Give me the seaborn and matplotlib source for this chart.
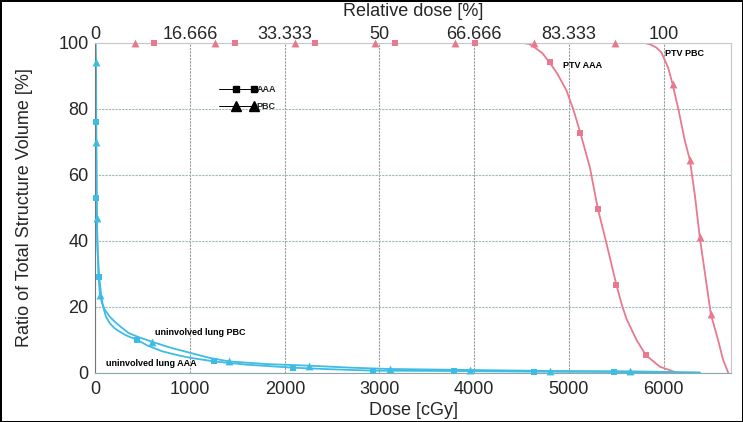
import numpy as np
import pandas as pd
import matplotlib
matplotlib.use("Agg")
import matplotlib.pyplot as plt
from matplotlib.lines import Line2D
from matplotlib.legend_handler import HandlerBase
import seaborn as sns

# ── curve points (dose in cGy, volume in %) ──
ptv_aaa_x = [0, 4500, 4580, 4641, 4720, 4799, 4880, 4975, 5050, 5123, 5222, 5306, 5398, 5503, 5560, 5609, 5715, 5813, 5961, 6137]
ptv_aaa_y = [100, 100, 99.6, 98.5, 96.8, 93.9, 90.5, 85.5, 79.5, 72.5, 62.2, 49.7, 39.1, 26.5, 20.5, 16.3, 9.9, 5.3, 1.8, 0]
ptv_aaa_mx = [618, 1473, 2317, 3162, 4007, 4799, 5123, 5306, 5503, 5813]
ptv_aaa_my = [100, 100, 100, 100, 100, 94, 72.5, 49.7, 26.5, 5.3]

ptv_pbc_x = [0, 5700, 5800, 5855, 5920, 5978, 6049, 6095, 6160, 6225, 6278, 6330, 6383, 6443, 6500, 6576, 6630, 6683]
ptv_pbc_y = [100, 100, 99.9, 99.5, 98.6, 97, 92.4, 87.5, 79.4, 70.3, 64.5, 54, 41, 29, 17.7, 9.9, 3.8, 0]
ptv_pbc_mx = [417, 1262, 2107, 2952, 3796, 4630, 5489, 6095, 6278, 6383, 6500]
ptv_pbc_my = [100, 100, 100, 100, 100, 100, 100, 87.5, 64.5, 41, 17.7]

lung_aaa_x = [0, 5, 10, 20, 40, 60, 80, 110, 150, 200, 250, 330, 435, 550, 700, 850, 1000, 1251, 1600, 2089, 2500, 2933, 3789, 4630, 5479, 6383]
lung_aaa_y = [100, 76, 53, 38, 29, 23.5, 20, 17, 15, 13.5, 12.5, 11.2, 10, 8.2, 6.5, 5.4, 4.5, 3.4, 2.4, 1.5, 1.0, 0.6, 0.5, 0.3, 0.2, 0]
lung_aaa_mx = [5, 10, 40, 435, 1251, 2089, 2933, 3789, 4630, 5479]
lung_aaa_my = [76, 53, 29, 10, 3.4, 1.5, 0.6, 0.5, 0.3, 0.2]

lung_pbc_x = [0, 5, 10, 15, 30, 47, 70, 100, 150, 200, 270, 350, 460, 593, 700, 800, 1000, 1200, 1413, 1800, 2258, 2700, 3110, 3955, 4799, 5644, 6383]
lung_pbc_y = [100, 94, 70, 47, 30, 23.5, 21, 19, 17, 15.5, 13.8, 12, 10.7, 9.4, 8.4, 7.5, 6, 4.5, 3.4, 2.6, 2.1, 1.5, 1.1, 0.8, 0.5, 0.4, 0]
lung_pbc_mx = [5, 10, 15, 47, 593, 1413, 2258, 3110, 3955, 4799, 5644]
lung_pbc_my = [94, 70, 47, 23.5, 9.4, 3.4, 2.1, 1.1, 0.8, 0.5, 0.4]

x_ticks = [0, 1000, 2000, 3000, 4000, 5000, 6000]
top_labels = ["0", "16.666", "33.333", "50", "66.666", "83.333", "100"]
y_ticks = [0, 20, 40, 60, 80, 100]

PINK = "#E8798F"
BLUE = "#3FBCE4"


class LeftLineHandler(HandlerBase):
    # thin line over the whole handle, two markers in its right half
    def create_artists(self, legend, orig_handle, xdescent, ydescent,
                       width, height, fontsize, trans):
        y = (height - ydescent) / 2
        x0 = -xdescent
        line = Line2D([x0, x0 + width], [y, y], color=orig_handle.get_color(),
                      lw=orig_handle.get_linewidth())
        marks = Line2D([x0 + width * 0.47, x0 + width * 0.95], [y, y], ls="none",
                       marker=orig_handle.get_marker(),
                       markersize=orig_handle.get_markersize(),
                       color=orig_handle.get_color())
        line.set_transform(trans)
        marks.set_transform(trans)
        return [line, marks]


sns.set_style("white")
plt.rcParams["font.family"] = ["Liberation Sans", "DejaVu Sans"]

fig = plt.figure(figsize=(7.43, 4.22), dpi=100)
fig.patch.set_edgecolor("black")
fig.patch.set_linewidth(2)
ax = fig.add_axes([0.1285, 0.117, 0.855, 0.782])

series = [
    (ptv_aaa_x, ptv_aaa_y, ptv_aaa_mx, ptv_aaa_my, PINK, "s"),
    (ptv_pbc_x, ptv_pbc_y, ptv_pbc_mx, ptv_pbc_my, PINK, "^"),
    (lung_aaa_x, lung_aaa_y, lung_aaa_mx, lung_aaa_my, BLUE, "s"),
    (lung_pbc_x, lung_pbc_y, lung_pbc_mx, lung_pbc_my, BLUE, "^"),
]
for cx, cy, mx, my, col, mk in series:
    sns.lineplot(x=cx, y=cy, ax=ax, color=col, lw=1.3, sort=False, estimator=None)
    sns.scatterplot(x=mx, y=my, ax=ax, color=col, marker=mk,
                    s=32 if mk == "^" else 22, edgecolor=col, linewidth=0, zorder=4)
for coll in ax.collections:
    coll.set_clip_on(False)

ax.set_xlim(0, 6710)
ax.set_ylim(0, 100)
ax.set_xticks(x_ticks)
ax.set_yticks(y_ticks)
ax.tick_params(labelsize=13, length=3, color="#666666", pad=2)
ax.tick_params(axis="x", pad=3)
ax.grid(True, axis="x", color="#9a9a9a", lw=0.8, ls=(0, (2, 1)))
ax.grid(True, axis="y", color="#9db8bb", lw=0.8, ls=(0, (2, 1)))
ax.set_axisbelow(True)
for s in ["top", "right"]:
    ax.spines[s].set_color("#c8c8c8")
    ax.spines[s].set_linewidth(0.8)
ax.spines["left"].set_color("#777777")
ax.spines["bottom"].set_color("#8aa8ab")
ax.set_xlabel("Dose [cGy]", fontsize=13, labelpad=3)
ax.set_ylabel("Ratio of Total Structure Volume [%]", fontsize=13, labelpad=18)

top = ax.secondary_xaxis("top")
top.set_xticks(x_ticks)
top.set_xticklabels(top_labels)
top.tick_params(labelsize=13, length=0, pad=0)
top.spines["top"].set_visible(False)
top.set_xlabel("Relative dose [%]", fontsize=13, labelpad=7)

kw = dict(fontsize=6.5, fontweight="bold", color="black")
ax.text(4937, 93, "PTV AAA", va="center", **kw)
ax.text(6013, 96.6, "PTV PBC", va="center", **kw)
ax.text(630, 12.3, "uninvolved lung PBC", va="center", **kw)
ax.text(110, 2.9, "uninvolved lung AAA", va="center", **kw)

handles = [Line2D([0], [0], color="black", lw=0.7, marker="s", markersize=5),
           Line2D([0], [0], color="black", lw=0.7, marker="^", markersize=7)]
leg = ax.legend(handles, ["AAA", "PBC"], frameon=False,
                handler_map={Line2D: LeftLineHandler()},
                handlelength=4.1, handletextpad=0.1, labelspacing=0.9,
                prop={"size": 6.5, "weight": "bold"},
                loc="upper left", bbox_to_anchor=(0.181, 0.897))

fig.savefig("out.png", dpi=100)
